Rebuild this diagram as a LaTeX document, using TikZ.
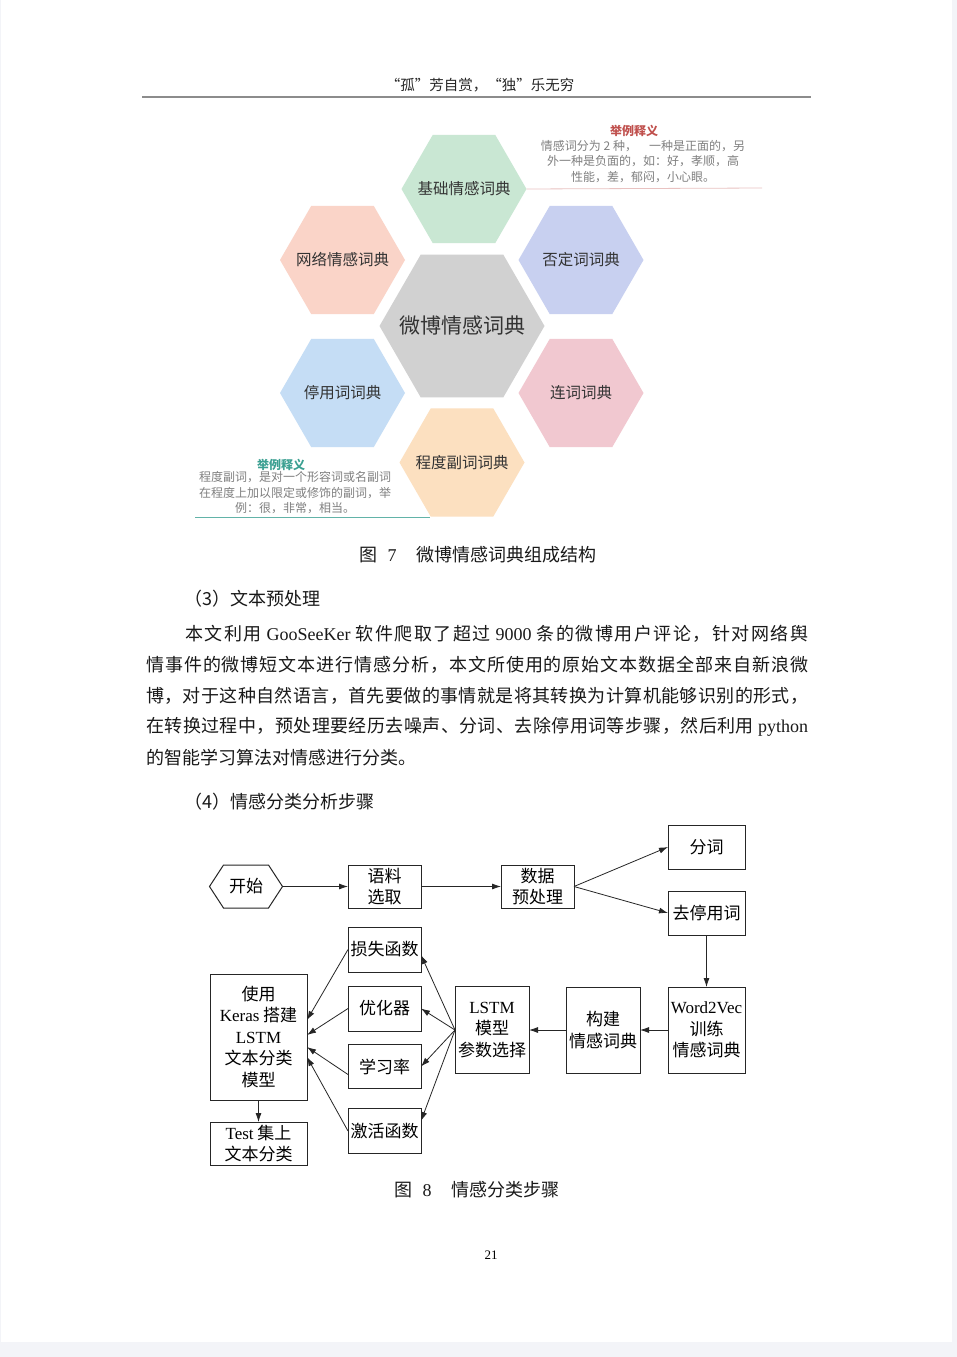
\documentclass[tikz,border=0pt]{standalone}
\usepackage{fontspec}
\setmainfont{Liberation Serif}
\newfontfamily\cjk{Noto Sans CJK SC}
\usetikzlibrary{arrows.meta,calc}
\newcommand\lat[1]{{\rmfamily #1}}
% inter-character glue for CJK so that lines can be justified
\XeTeXinterchartokenstate=1
\newcount\mycc
\mycc="4E00
\loop \XeTeXcharclass\mycc=1 \advance\mycc by 1 \ifnum\mycc<"A000 \repeat
\XeTeXcharclass"FF0C=3 \XeTeXcharclass"3001=3 \XeTeXcharclass"3002=3
\XeTeXcharclass"FF1A=3 \XeTeXcharclass"FF09=3 \XeTeXcharclass"FF08=2
\XeTeXinterchartoks 1 1 = {\hskip 0pt plus 3pt\relax}
\XeTeXinterchartoks 1 3 = {\hskip 0pt plus 3pt\relax}
\XeTeXinterchartoks 3 1 = {\hskip 0pt plus 3pt\relax}
\XeTeXinterchartoks 1 2 = {\hskip 0pt plus 3pt\relax}
\XeTeXinterchartoks 3 2 = {\hskip 0pt plus 3pt\relax}
\XeTeXinterchartoks 3 3 = {\hskip 0pt plus 3pt\relax}
\definecolor{pagegray}{HTML}{F3F4F8}
\definecolor{hexgray}{HTML}{D1D1D1}
\definecolor{hexgreen}{HTML}{C9E7D3}
\definecolor{hexpeach}{HTML}{FAD4C8}
\definecolor{hexlav}{HTML}{C8D0F0}
\definecolor{hexblue}{HTML}{C5DDF5}
\definecolor{hexpink}{HTML}{F1C8D0}
\definecolor{hexorange}{HTML}{FCE0C0}
\definecolor{annred}{HTML}{C0504D}
\definecolor{annteal}{HTML}{3BA092}
\definecolor{anngray}{HTML}{808080}
% flat-topped hexagon around a named node: #1 node, #2 circumradius, #3 colour
\newcommand\hexfill[3]{\fill[#3] (#1.center) ++(0:#2) -- ++(120:#2) -- ++(180:#2) -- ++(240:#2) -- ++(300:#2) -- ++(0:#2) -- cycle;}
\tikzset{
  hexlabel/.style={inner sep=0pt, outer sep=0pt, font=\cjk\fontsize{15.5}{18}\selectfont, text=black!80},
  anntitle/.style={font=\cjk\bfseries\fontsize{12}{14}\selectfont, inner sep=0pt},
  anntext/.style={font=\cjk\fontsize{12}{15.5}\selectfont, align=center, text=anngray, inner sep=0pt},
  body/.style={font=\cjk\fontsize{18}{20}\selectfont, inner sep=0pt, anchor=west, text=black!90},
  caption/.style={font=\cjk\fontsize{18}{20}\selectfont, inner sep=0pt, text=black!90},
  fbox/.style={draw=black!85, line width=1pt, fill=white, inner sep=0pt, outer sep=0pt,
    align=center, font=\cjk\fontsize{17}{21.5}\selectfont},
  arr/.style={-{Latex[length=9pt,width=6pt]}, line width=0.8pt, draw=black!85}
}
\begin{document}
\begin{tikzpicture}[x=1pt,y=-1pt]
\useasboundingbox (0,0) rectangle (957,1357);
\fill[pagegray] (0,0) rectangle (957,1357);
\fill[white] (1,0) rectangle (952,1342);

% header
\node[font=\cjk\fontsize{14.5}{16}\selectfont, inner sep=0pt, text=black!85] (hd) at (480,85) {“孤”芳自赏，“独”乐无穷};
\coordinate (hl) at (142,97);
\coordinate (hr) at (811,97);
\draw[line width=1.5pt, black!45] (hl) -- (hr);

% figure 7: hexagons (label nodes first, hexagons drawn behind)
\coordinate (a1) at (762,188);
\coordinate (c1) at (195,517);
\coordinate (c2) at (430,517);
\coordinate (wbc) at (462,326);
\coordinate (jcc) at (464,189);
\coordinate (wlc) at (342.5,260);
\coordinate (fdc) at (581,260);
\coordinate (tyc) at (342.5,393);
\coordinate (lcc) at (581,393);
\coordinate (cdc) at (462,462.5);
\draw[annteal!80, line width=0.8pt] (c1) -- (c2);
\hexfill{wbc}{82.5}{hexgray}
\hexfill{jcc}{62.5}{hexgreen}
\hexfill{wlc}{62.5}{hexpeach}
\hexfill{fdc}{62.5}{hexlav}
\hexfill{tyc}{62.5}{hexblue}
\hexfill{lcc}{62.5}{hexpink}
\hexfill{cdc}{62.5}{hexorange}
\node[hexlabel, font=\cjk\fontsize{21}{24}\selectfont] (wb) at (wbc) {微博情感词典};
\node[hexlabel] (jc) at (jcc) {基础情感词典};
\node[hexlabel] (wl) at (wlc) {网络情感词典};
\node[hexlabel] (fd) at (fdc) {否定词词典};
\node[hexlabel] (ty) at (tyc) {停用词词典};
\node[hexlabel] (lc) at (lcc) {连词词典};
\node[hexlabel] (cd) at (cdc) {程度副词词典};
\draw[annred!35, line width=0.8pt] ($(jcc)+(62.5,0)$) -- (a1);

\node[anntitle, text=annred] (t1) at (634,131) {举例释义};
\node[anntext] (t2) at (643,161.5) {情感词分为 2 种，\hspace{12pt}一种是正面的，另\\外一种是负面的，如：好，孝顺，高\\性能，差，郁闷，小心眼。};
\node[anntitle, text=annteal] (b1) at (281,465) {举例释义};
\node[anntext] (b2) at (295,493) {程度副词，是对一个形容词或名副词\\在程度上加以限定或修饰的副词，举\\例：很，非常，相当。};

\node[caption] (cap7) at (478,555) {图\hspace{10pt}\lat{7}\hspace{20pt}微博情感词典组成结构};

% text
\node[body] (s3) at (184,599) {（3）文本预处理};
\node[body] (p1) at (185,634) {\makebox[623pt][s]{本文利用 \lat{GooSeeKer} 软件爬取了超过 \lat{9000} 条的微博用户评论，针对网络舆}};
\node[body] (p2) at (146,665) {\makebox[662pt][s]{情事件的微博短文本进行情感分析，本文所使用的原始文本数据全部来自新浪微}};
\node[body] (p3) at (146,696) {\makebox[662pt][s]{博，对于这种自然语言，首先要做的事情就是将其转换为计算机能够识别的形式，}};
\node[body] (p4) at (146,727) {\makebox[662pt][s]{在转换过程中，预处理要经历去噪声、分词、去除停用词等步骤，然后利用 \lat{python}}};
\node[body] (p5) at (146,758) {的智能学习算法对情感进行分类。};
\node[body] (s4) at (184,802) {（4）情感分类分析步骤};

% figure 8: flowchart
\node[inner sep=0pt, outer sep=0pt, minimum width=73pt, minimum height=43pt, font=\cjk\fontsize{17}{21.5}\selectfont] (st) at (246,886.5) {开始};
\draw[draw=black!85, line width=1pt] (st.west) -- ([xshift=14pt]st.north west) -- ([xshift=-14pt]st.north east) -- (st.east) -- ([xshift=-14pt]st.south east) -- ([xshift=14pt]st.south west) -- cycle;
\node[fbox, minimum width=73pt, minimum height=43pt] (yl) at (384.5,886.5) {语料\\选取};
\node[fbox, minimum width=73pt, minimum height=43pt] (sj) at (537.5,886.5) {数据\\预处理};
\node[fbox, minimum width=77pt, minimum height=44pt] (fc) at (706.5,847) {分词};
\node[fbox, minimum width=77pt, minimum height=44pt] (qt) at (706.5,913) {去停用词};
\node[fbox, minimum width=77pt, minimum height=86pt] (wv) at (706.5,1030) {\lat{Word2Vec}\\训练\\情感词典};
\node[fbox, minimum width=74pt, minimum height=86pt] (gj) at (603,1030) {构建\\情感词典};
\node[fbox, minimum width=74pt, minimum height=87pt] (ls) at (492,1030) {\lat{LSTM}\\模型\\参数选择};
\node[fbox, minimum width=73pt, minimum height=45pt] (loss) at (384.5,949.5) {损失函数};
\node[fbox, minimum width=73pt, minimum height=45pt] (opt) at (384.5,1008.5) {优化器};
\node[fbox, minimum width=73pt, minimum height=44pt] (lr) at (384.5,1066.5) {学习率};
\node[fbox, minimum width=73pt, minimum height=45pt] (act) at (384.5,1131) {激活函数};
\node[fbox, minimum width=97pt, minimum height=126pt] (ks) at (258.5,1037) {使用\\\lat{Keras} 搭建\\\lat{LSTM}\\文本分类\\模型};
\node[fbox, minimum width=97pt, minimum height=43pt] (ts) at (258.5,1143.5) {\lat{Test} 集上\\文本分类};

\draw[arr] (st.east) -- (yl.west);
\draw[arr] (yl.east) -- (sj.west);
\draw[arr] (sj.east) -- (fc.west);
\draw[arr] (sj.east) -- (qt.west);
\draw[arr] (qt.south) -- (wv.north);
\draw[arr] (wv.west) -- (gj.east);
\draw[arr] (gj.west) -- (ls.east);
\draw[arr] (ls.west) -- ([yshift=-5.5pt]loss.east);
\draw[arr] (ls.west) -- (opt.east);
\draw[arr] (ls.west) -- (lr.east);
\draw[arr] (ls.west) -- ([yshift=10pt]act.east);
\draw[arr] (loss.west) -- ([yshift=17pt]ks.east);
\draw[arr] (opt.west) -- ([yshift=2pt]ks.east);
\draw[arr] ([yshift=-8pt]lr.west) -- ([yshift=-10pt]ks.east);
\draw[arr] (act.west) -- ([yshift=-20pt]ks.east);
\draw[arr] (ks.south) -- (ts.north);

\node[caption] (cap8) at (477,1190) {图\hspace{10pt}\lat{8}\hspace{20pt}情感分类步骤};
\node[font=\rmfamily\fontsize{13}{15}\selectfont, inner sep=0pt] (pn) at (491,1255) {21};
\end{tikzpicture}
\end{document}
